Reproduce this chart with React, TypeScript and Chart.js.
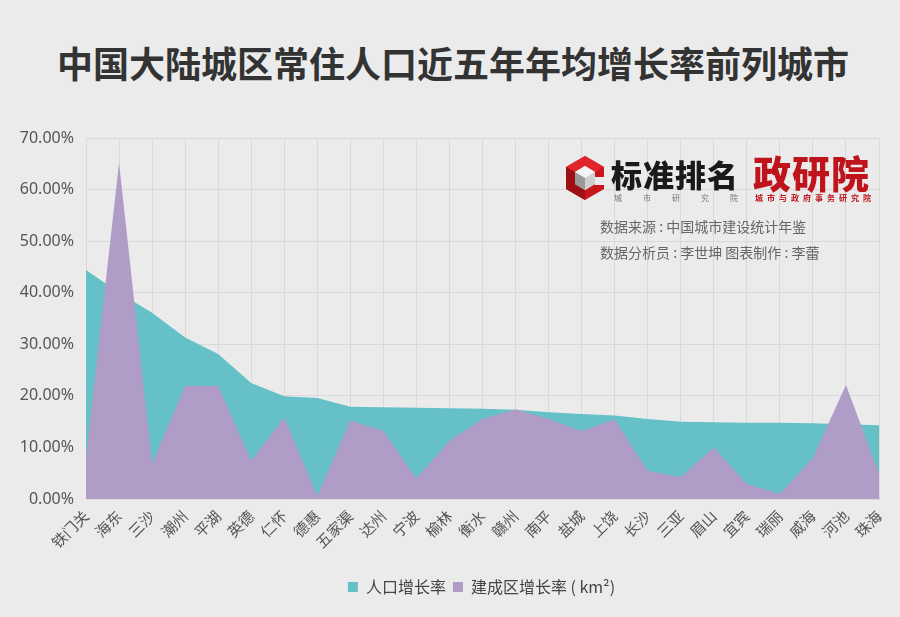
import React, { useEffect, useRef } from "react";
import { Chart, registerables } from "chart.js";

Chart.register(...registerables);

const cities = ["铁门关", "海东", "三沙", "潮州", "平湖", "英德", "仁怀", "德惠", "五家渠", "达州", "宁波", "榆林", "衡水", "赣州", "南平", "盐城", "上饶", "长沙", "三亚", "眉山", "宜宾", "瑞丽", "威海", "河池", "珠海"];
const populationGrowth = [44.4, 40.0, 36.1, 31.3, 28.1, 22.5, 19.9, 19.6, 17.9, 17.8, 17.7, 17.6, 17.5, 17.3, 16.8, 16.5, 16.2, 15.5, 15.0, 14.9, 14.8, 14.8, 14.7, 14.5, 14.3];
const builtAreaGrowth = [8.0, 65.2, 6.8, 21.9, 21.9, 7.4, 15.8, 0.6, 15.2, 13.2, 4.0, 11.3, 15.5, 17.4, 15.5, 13.2, 15.4, 5.5, 4.2, 10.0, 2.9, 1.0, 8.0, 22.1, 5.0];
const yTicks = [0, 10, 20, 30, 40, 50, 60, 70];
const seriesNames = ["人口增长率", "建成区增长率 ( km²)"];

const TEAL = "#66c0c8";
const PURPLE = "#b09dc7";
const FONT = "'Noto Sans CJK SC', 'Noto Sans', sans-serif";

function Logo() {
  return (
    <svg width="42" height="46" viewBox="0 0 42 46" style={{ position: "absolute", left: 564, top: 155 }}>
      <polygon points="21,1 40,12 40,34 21,45 2,34 2,12" fill="#c8161d" />
      <polygon points="21,1 40,12 21,23 2,12" fill="#e0252b" />
      <polygon points="2,12 21,23 21,45 2,34" fill="#9c1016" />
      <polygon points="21,11 31,17 31,29 21,35 11,29 11,17" fill="#ebebeb" />
      <polygon points="21,11 31,17 21,23 11,17" fill="#f5f5f5" />
      <polygon points="11,17 21,23 21,35 11,29" fill="#9a9a9a" />
      <polygon points="21,23 31,17 31,29 21,35" fill="#cfcfcf" />
      <polygon points="31,22 42,22 42,30 31,30" fill="#ebebeb" />
    </svg>
  );
}

const legendShift = {
  id: "legendShift",
  afterLayout(chart: any) {
    const lg = chart.legend;
    if (lg) {
      lg.left += 42;
      lg.right += 42;
    }
  },
};

export default function App() {
  const ref = useRef<HTMLCanvasElement | null>(null);

  useEffect(() => {
    const prevMargin = document.body.style.margin;
    document.body.style.margin = "0";
    const canvas = ref.current;
    if (!canvas) return;
    const chart = new Chart(canvas, {
      type: "line",
      data: {
        labels: cities,
        datasets: [
          {
            label: seriesNames[0],
            data: populationGrowth,
            backgroundColor: TEAL,
            borderColor: TEAL,
            borderWidth: 0,
            pointRadius: 0,
            fill: "origin",
            tension: 0,
            order: 1,
          },
          {
            label: seriesNames[1],
            data: builtAreaGrowth,
            backgroundColor: PURPLE,
            borderColor: PURPLE,
            borderWidth: 0,
            pointRadius: 0,
            fill: "origin",
            tension: 0,
            order: 0,
          },
        ],
      },
      plugins: [legendShift],
      options: {
        responsive: false,
        animation: false,
        layout: { padding: { left: 0, right: 21, top: 138, bottom: 12 } },
        plugins: {
          title: { display: false },
          tooltip: { enabled: false },
          legend: {
            position: "bottom",
            labels: {
              boxWidth: 10,
              boxHeight: 10,
              padding: 7,
              color: "#444",
              font: { family: FONT, size: 16 },
              sort: (a: any, b: any) => a.datasetIndex - b.datasetIndex,
            },
          },
        },
        scales: {
          x: {
            grid: { color: "#d9d9d9", drawTicks: false },
            border: { color: "#d9d9d9" },
            ticks: {
              color: "#555",
              font: { family: FONT, size: 15 },
              maxRotation: 45,
              minRotation: 45,
              autoSkip: false,
              padding: 8,
            },
            afterFit: (scale: any) => {
              scale.height = 73;
            },
          },
          y: {
            min: 0,
            max: 70,
            grid: { color: "#d9d9d9", drawTicks: false },
            border: { display: false },
            afterBuildTicks: (scale: any) => {
              scale.ticks = yTicks.map((v) => ({ value: v }));
            },
            ticks: {
              color: "#555",
              font: { family: "'Noto Sans', sans-serif", size: 16 },
              padding: 12,
              callback: (v: any) => Number(v).toFixed(2) + "%",
            },
            afterFit: (scale: any) => {
              scale.width = 86;
            },
          },
        },
      },
    });
    return () => {
      chart.destroy();
      document.body.style.margin = prevMargin;
    };
  }, []);

  return (
    <div style={{ position: "absolute", left: 0, top: 0, width: 900, height: 617, background: "#ebebeb", overflow: "hidden", fontFamily: FONT }}>
      <div style={{ position: "absolute", left: 0, top: 38, width: 906, textAlign: "center", fontSize: 36, fontWeight: 700, color: "#333", lineHeight: "48px", whiteSpace: "nowrap" }}>
        中国大陆城区常住人口近五年年均增长率前列城市
      </div>
      <canvas ref={ref} width={900} height={617} style={{ position: "absolute", left: 0, top: 0, width: 900, height: 617 }} />
      <Logo />
      <div style={{ position: "absolute", left: 611, top: 155, fontSize: 31, fontWeight: 900, color: "#1a1a1a", lineHeight: "38px", letterSpacing: 1, whiteSpace: "nowrap" }}>
        标准排名
      </div>
      <div style={{ position: "absolute", left: 614, top: 193, width: 124, display: "flex", justifyContent: "space-between", fontSize: 8, color: "#777", lineHeight: "10px" }}>
        <span>城</span><span>市</span><span>研</span><span>究</span><span>院</span>
      </div>
      <div style={{ position: "absolute", left: 753, top: 149, fontSize: 38, fontWeight: 900, color: "#c0141c", lineHeight: "46px", letterSpacing: 1, whiteSpace: "nowrap" }}>
        政研院
      </div>
      <div style={{ position: "absolute", left: 755, top: 193, width: 116, display: "flex", justifyContent: "space-between", fontSize: 8, fontWeight: 700, color: "#c0141c", lineHeight: "10px" }}>
        {"城市与政府事务研究院".split("").map((c, i) => (
          <span key={i}>{c}</span>
        ))}
      </div>
      <div style={{ position: "absolute", left: 600, top: 216, fontSize: 14, color: "#666", lineHeight: "20px", whiteSpace: "nowrap" }}>
        数据来源 : 中国城市建设统计年鉴
      </div>
      <div style={{ position: "absolute", left: 600, top: 242, fontSize: 14, color: "#666", lineHeight: "20px", whiteSpace: "nowrap" }}>
        数据分析员 : 李世坤 图表制作 : 李蕾
      </div>
    </div>
  );
}
